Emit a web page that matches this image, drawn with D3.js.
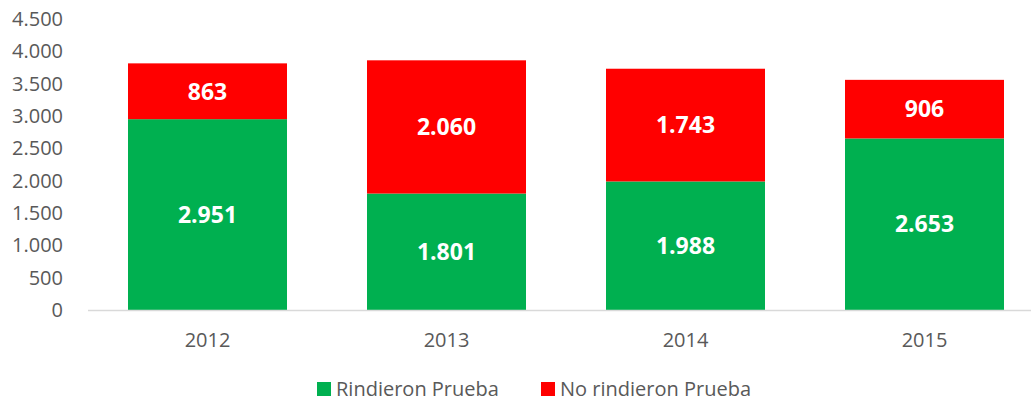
<!DOCTYPE html>
<html lang="es">
<head>
<meta charset="UTF-8">
<title>Rindieron Prueba</title>
<script src="https://d3js.org/d3.v7.min.js"></script>
<style>
  body { margin: 0; background: #fff; }
  text { font-family: "Open Sans", sans-serif; }
</style>
</head>
<body>
<div id="chart"></div>
<script>
const years = ["2012", "2013", "2014", "2015"];
const rindieron = [2951, 1801, 1988, 2653];
const noRindieron = [863, 2060, 1743, 906];
const yTicks = [0, 500, 1000, 1500, 2000, 2500, 3000, 3500, 4000, 4500];
const seriesNames = ["Rindieron Prueba", "No rindieron Prueba"];
const colors = ["#00b050", "#ff0000"];

const width = 1031, height = 402;
const margin = { left: 88, top: 19, bottom: 92 };
const plotRight = 1044;

const svg = d3.select("#chart").append("svg")
    .attr("width", width)
    .attr("height", height);

const x = d3.scaleBand()
    .domain(years)
    .range([margin.left, plotRight])
    .paddingInner(80 / 239)
    .paddingOuter(40 / 239);

const y = d3.scaleLinear()
    .domain([0, 4500])
    .range([height - margin.bottom, margin.top]);

const fmt = d3.formatLocale({ decimal: ",", thousands: ".", grouping: [3], currency: ["", ""] }).format(",d");

// stacked data
const rows = years.map((yr, i) => ({ year: yr, r: rindieron[i], n: noRindieron[i] }));
const stacked = d3.stack().keys(["r", "n"])(rows);

// y tick labels
svg.append("g")
    .selectAll("text")
    .data(yTicks)
    .join("text")
    .attr("x", 63)
    .attr("y", d => y(d))
    .attr("dy", "0.35em")
    .attr("text-anchor", "end")
    .attr("fill", "#595959")
    .attr("font-size", 20)
    .text(d => fmt(d));

// bars
const layers = svg.append("g")
    .selectAll("g")
    .data(stacked)
    .join("g")
    .attr("fill", (d, i) => colors[i]);

layers.selectAll("rect")
    .data(d => d)
    .join("rect")
    .attr("x", d => x(d.data.year))
    .attr("width", x.bandwidth())
    .attr("y", d => y(d[1]))
    .attr("height", d => y(d[0]) - y(d[1]));

layers.selectAll("text")
    .data(d => d)
    .join("text")
    .attr("x", d => x(d.data.year) + x.bandwidth() / 2)
    .attr("y", d => (y(d[0]) + y(d[1])) / 2)
    .attr("dy", "0.36em")
    .attr("text-anchor", "middle")
    .attr("fill", "#fff")
    .attr("font-weight", "bold")
    .attr("font-size", 23)
    .text(d => fmt(d[1] - d[0]));

// x axis line
svg.append("line")
    .attr("x1", margin.left)
    .attr("x2", plotRight)
    .attr("y1", y(0) + 0.5)
    .attr("y2", y(0) + 0.5)
    .attr("stroke", "#d9d9d9")
    .attr("stroke-width", 1.5);

// year labels
svg.append("g")
    .selectAll("text")
    .data(years)
    .join("text")
    .attr("x", d => x(d) + x.bandwidth() / 2)
    .attr("y", y(0) + 30)
    .attr("dy", "0.35em")
    .attr("text-anchor", "middle")
    .attr("fill", "#595959")
    .attr("font-size", 20)
    .text(d => d);

// legend
const legendX = [317, 541];
const legend = svg.append("g")
    .selectAll("g")
    .data(seriesNames)
    .join("g")
    .attr("transform", (d, i) => `translate(${legendX[i]},382)`);

legend.append("rect")
    .attr("width", 14)
    .attr("height", 14)
    .attr("fill", (d, i) => colors[i]);

legend.append("text")
    .attr("x", 19)
    .attr("y", 7)
    .attr("dy", "0.35em")
    .attr("fill", "#595959")
    .attr("font-size", 20)
    .text(d => d);
</script>
</body>
</html>
